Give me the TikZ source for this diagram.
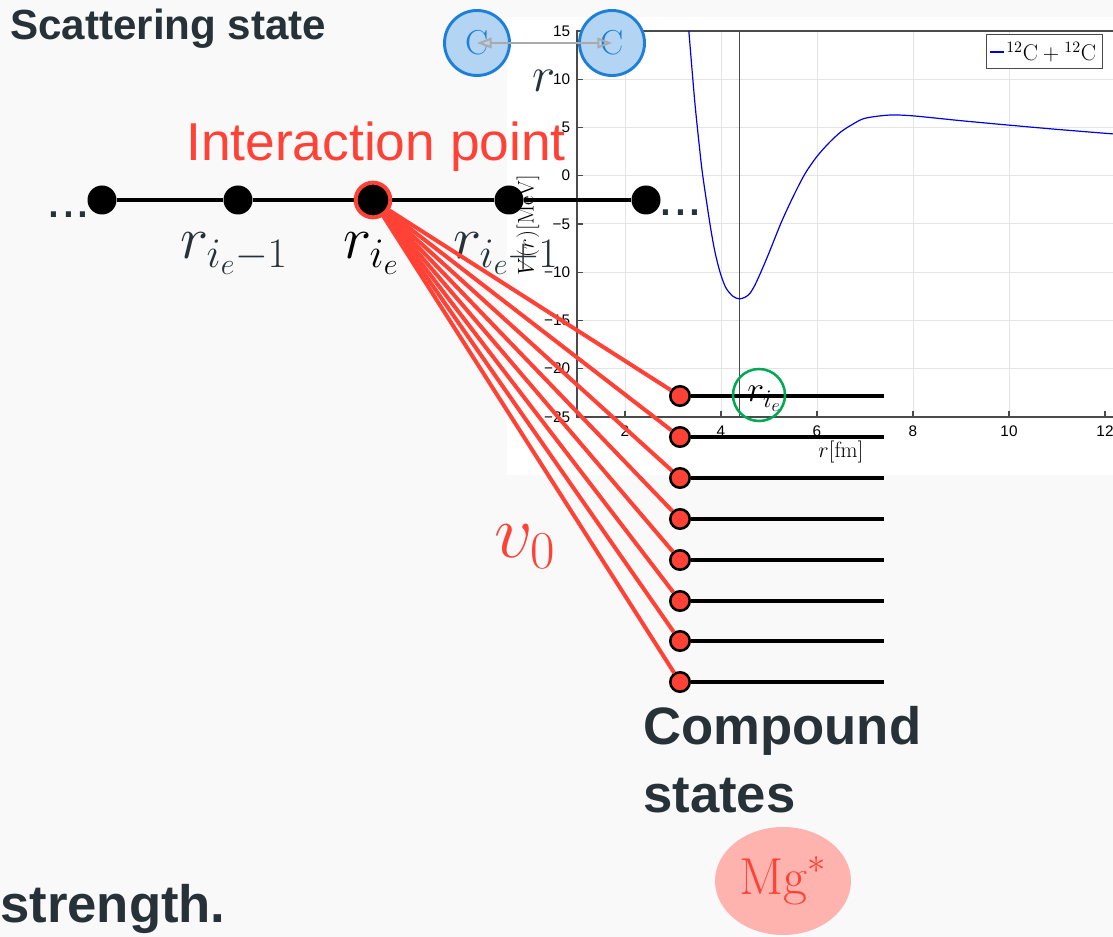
\RequirePackage{fix-cm}
\documentclass[tikz,border=0pt]{standalone}
\usepackage{fontspec}
\newfontfamily\arialf{Liberation Sans}
\usetikzlibrary{arrows.meta,shapes.geometric}
\definecolor{bg}{HTML}{F9F9F9}
\definecolor{dk}{HTML}{263238}
\definecolor{rd}{HTML}{FF4136}
\definecolor{cfill}{HTML}{B3D4F2}
\definecolor{cedge}{HTML}{1E7FD8}
\definecolor{mgfill}{HTML}{FFB3AE}
\definecolor{grn}{HTML}{00AA55}
\definecolor{gridc}{HTML}{E4E4E4}
\definecolor{axisc}{HTML}{4A4A4A}
\definecolor{arrc}{HTML}{AAAAAA}
\newcommand\sz[1]{\fontsize{#1}{#1}\selectfont}
\begin{document}
\begin{tikzpicture}[x=0.75pt,y=-0.75pt,
  bignode/.style={circle,fill=black,inner sep=0pt,minimum size=21.75pt},
  ipnode/.style={circle,fill=black,draw=rd,line width=3pt,inner sep=0pt,minimum size=26pt},
  cnode/.style={circle,fill=rd,draw=black,line width=1.9pt,inner sep=0pt,minimum size=14.6pt},
  chain/.style={line width=3pt,black},
  redline/.style={line width=3pt,rd},
  atom/.style={circle,fill=cfill,draw=cedge,line width=2.2pt,inner sep=0pt,minimum size=48.75pt,text=cedge,font=\sz{26}},
  gridline/.style={gridc,line width=0.75pt},
  axisline/.style={axisc,line width=0.9pt},
  ticklbl/.style={inner sep=0pt,font=\arialf\sz{11.5},text=black},
  title/.style={anchor=base west,inner sep=0pt,text=dk,font=\arialf\bfseries\sz{39.5}},
  mlbl/.style={anchor=base west,inner sep=0pt,font=\sz{45}},
  dots/.style={anchor=base west,inner sep=0pt,text=dk,font=\arialf\sz{40}}
]
\useasboundingbox (0,0) rectangle (1113,937);
\fill[bg] (0,0) rectangle (1113,937);
% ---------------- plot ----------------
\fill[white] (507,17) rectangle (1113,475);
\begin{scope}[shift={(529,175.7)},x=36pt,y=7.2375pt]
  \draw[gridline] foreach \r in {2,4,...,10} {(\r,-25) -- (\r,15)};
  \draw[gridline] foreach \v in {-20,-15,...,10} {(1,\v) -- (12.17,\v)};
  \draw[axisline] (12.17,15) -- (1,15) -- (1,-25) -- (12.17,-25);
  \draw[axisline] foreach \v in {-20,-15,...,10} {(1,\v) -- (1.12,\v)};
  \draw[axisline] foreach \r in {2,4,...,12} {(\r,-25) -- (\r,-24.4)};
  \draw[axisc,line width=0.9pt] (4.38,15) -- (4.38,-25);
  \draw[blue!90!black,line width=0.9pt] plot[smooth,tension=0.5] coordinates {
    (3.33,15) (3.45,7.86) (3.55,3.0) (3.62,0) (3.77,-5) (3.87,-7.8) (3.98,-10)
    (4.1,-11.6) (4.25,-12.5) (4.38,-12.76) (4.5,-12.6) (4.6,-12.2) (4.7,-11.4)
    (4.83,-10) (5.0,-8.0) (5.25,-4.9) (5.5,-2.2) (5.75,0.2) (6.0,2.0) (6.25,3.4)
    (6.5,4.55) (6.75,5.35) (7.0,5.95) (7.5,6.28) (8.0,6.2) (9,5.7) (10,5.24)
    (11,4.8) (12.17,4.33)};
  \foreach \v/\t in {15/15,10/10,5/5,0/0,-5/−5,-10/−10,-15/−15,-20/−20,-25/−25}
    \node[ticklbl,anchor=east,xshift=-5pt] at (1,\v) {\t};
  \foreach \r in {2,4,...,12}
    \node[ticklbl,anchor=north,yshift=-6.5pt] at (\r,-25) {\r};
\end{scope}
\node[inner sep=0pt,font=\sz{16.5}] (xl) at (841,452) {$r[\mathrm{fm}]$};
\node[inner sep=0pt,font=\sz{17},rotate=90] (yl) at (528,225) {$V(r)[\mathrm{MeV}]$};
\node[draw=axisc,fill=white,line width=0.75pt,minimum width=87pt,minimum height=25.5pt,inner sep=0pt] (leg) at (1044,52) {};
\draw[blue!90!black,line width=0.9pt] (990,52) -- (1004,52);
\node[anchor=west,inner sep=0pt,font=\sz{17}] (legt) at (1006,52) {$^{12}\mathrm{C}+{}^{12}\mathrm{C}$};
% ---------------- atoms ----------------
\node[atom] (ca) at (477,43) {$\mathrm{C}$};
\node[atom] (cb) at (612,43) {$\mathrm{C}$};
\draw[arrc,line width=1.5pt,{Triangle[open,length=11pt,width=8pt]}-{Triangle[open,length=11pt,width=8pt]}] (ca.center) -- (cb.center);
\node[mlbl,text=dk,font=\sz{37}] (rr) at (532,92) {$r$};
% ---------------- texts ----------------
\node[anchor=base west,inner sep=0pt,text=dk,font=\arialf\bfseries\sz{31.6}] (t1) at (10,40) {Scattering state};
\node[anchor=base west,inner sep=0pt,text=rd,font=\arialf\sz{40}] (t2) at (186,161) {Interaction point};
% ---------------- chain ----------------
\node[bignode] (n1) at (102,200) {};
\node[bignode] (n2) at (238,200) {};
\node[ipnode] (n3) at (373,200) {};
\node[bignode] (n4) at (509,200) {};
\node[bignode] (n5) at (646,200) {};
\draw[chain] (n1) -- (n2) -- (n3) -- (n4) -- (n5);
\node[dots] (dl) at (46,218) {...};
\node[dots] (dr) at (658,216) {...};
\node[mlbl,text=dk] (l1) at (180,259) {$r_{i_e-1}$};
\node[mlbl,text=black] (l2) at (343,259) {$r_{i_e}$};
\node[mlbl,text=dk] (l3) at (453,259) {$r_{i_e+1}$};
% ---------------- compound states ----------------
\foreach \k/\y in {1/396,2/437,3/478,4/519,5/560,6/601,7/641,8/682} {
  \node[cnode] (c\k) at (680,\y) {};
  \coordinate (e\k) at (884,\y);
}
\foreach \k in {1,...,8} {
  \draw[redline] (n3) -- (c\k);
  \draw[chain] (c\k) -- (e\k);
}
\node[circle,draw=grn,line width=1.9pt,minimum size=39pt,inner sep=0pt] (gc) at (759,395) {};
\node[anchor=base west,inner sep=0pt,font=\sz{27}] (gl) at (747,402) {$r_{i_e}$};
\node[anchor=base west,inner sep=0pt,text=rd,font=\sz{57}] (v0) at (494,557) {$v_0$};
\node[title] (t3) at (643,744) {Compound};
\node[title] (t4) at (643,812) {states};
\node[ellipse,fill=mgfill,minimum width=102pt,minimum height=81pt,inner sep=0pt,text=rd,font=\sz{39}] (mg) at (783,881) {$\mathrm{Mg}^*$};
\node[title] (t5) at (0,922) {strength.};
\end{tikzpicture}
\end{document}
